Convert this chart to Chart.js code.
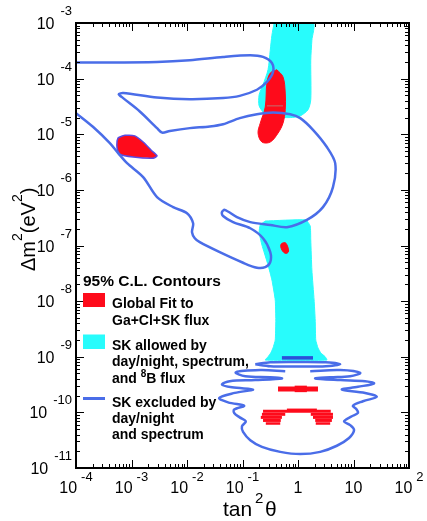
<!DOCTYPE html>
<html>
<head>
<meta charset="utf-8">
<script src="https://cdn.jsdelivr.net/npm/chart.js@4.4.1/dist/chart.umd.min.js"></script>
<style>
  html, body { margin: 0; padding: 0; background: #fff; }
  canvas { display: block; }
</style>
</head>
<body>
<canvas id="contours" width="427" height="521"></canvas>
<script>
// Solar neutrino oscillation contours, tan^2(theta) vs delta m^2 (both log)
// every point below is [log10 tan2theta, log10 dm2]

const xTickExps = [-4, -3, -2, -1, 0, 1, 2];
const yTickExps = [-11, -10, -9, -8, -7, -6, -5, -4, -3];

// SK excluded by day/night and spectrum (blue lines)
const excludedUpper = [
  [-4.00,-3.71],[-3.75,-3.71],[-2.54,-3.70],[-1.95,-3.67],[-1.35,-3.61],[-0.86,-3.58],
  [-0.63,-3.61],[-0.47,-3.72],[-0.45,-3.88],[-0.56,-4.06],[-0.74,-4.20],[-1.05,-4.31],
  [-1.35,-4.35],[-1.95,-4.37],[-2.54,-4.34],[-3.15,-4.26],[-3.23,-4.28],[-3.15,-4.35],
  [-2.85,-4.59],[-2.54,-4.89],[-2.45,-4.97],[-2.31,-4.94],[-1.95,-4.89],[-1.59,-4.86],
  [-1.35,-4.82],[-1.05,-4.71],[-0.74,-4.64],[-0.45,-4.61],[-0.14,-4.64],[0.04,-4.71],
  [0.27,-4.92],[0.52,-5.23],[0.67,-5.52],[0.63,-5.95],[0.45,-6.31],[0.16,-6.54],
  [-0.20,-6.67],[-0.50,-6.63],[-0.86,-6.58],[-1.10,-6.49],[-1.32,-6.36],[-1.37,-6.40],
  [-1.35,-6.47],[-1.17,-6.58],[-0.86,-6.69],[-0.63,-6.87],[-0.50,-7.12],[-0.50,-7.30],
  [-0.59,-7.39],[-0.74,-7.40],[-0.99,-7.31],[-1.41,-7.12],[-1.77,-6.94],[-1.86,-6.87],
  [-1.91,-6.76],[-1.89,-6.60],[-2.00,-6.42],[-2.25,-6.31],[-2.54,-6.13],[-2.79,-5.77],
  [-3.08,-5.52],[-3.24,-5.34],[-3.39,-5.16],[-3.69,-4.87],[-4.00,-4.62]
];
const excludedWavy = [
  [-0.23,-9.26],[-0.68,-9.24],[-1.12,-9.28],[-0.95,-9.35],[-0.50,-9.37],[-0.29,-9.39],
  [-0.77,-9.42],[-1.23,-9.44],[-1.37,-9.50],[-1.19,-9.55],[-0.81,-9.59],[-1.14,-9.65],
  [-1.42,-9.74],[-1.26,-9.82],[-0.97,-9.88],[-1.15,-9.95],[-1.15,-10.01],[-1.05,-10.09],
  [-0.94,-10.16],[-1.01,-10.25],[-0.99,-10.35],[-0.86,-10.50],[-0.65,-10.62],[-0.32,-10.71],
  [0.04,-10.75],[0.40,-10.71],[0.70,-10.60],[0.92,-10.46],[1.01,-10.32],[0.94,-10.23],
  [0.83,-10.16],[0.97,-10.07],[1.08,-10.01],[1.05,-9.94],[0.99,-9.88],[1.17,-9.80],
  [1.42,-9.72],[1.21,-9.65],[0.79,-9.59],[1.08,-9.54],[1.37,-9.48],[1.21,-9.44],
  [0.76,-9.42],[0.31,-9.39],[0.58,-9.37],[0.94,-9.35],[1.12,-9.29],[0.76,-9.24],[0.22,-9.26]
];
const excludedIsland = [
  [-0.77,-9.135],[-0.5,-9.10],[0,-9.095],[0.5,-9.10],[0.76,-9.135],
  [0.5,-9.17],[0,-9.175],[-0.5,-9.17],[-0.77,-9.135]
];
const excludedBar = [[-0.29,-9.02],[0.27,-9.02]];

// SK allowed by day/night, spectrum and 8B flux (cyan)
const allowedUpper = [
  [-0.43,-3.00],[0.27,-3.00],[0.25,-3.31],[0.23,-3.67],[0.23,-4.38],[0.18,-4.56],
  [0.04,-4.67],[-0.14,-4.70],[-0.41,-4.69],[-0.59,-4.64],[-0.70,-4.49],[-0.70,-4.29],
  [-0.63,-4.11],[-0.54,-3.84],[-0.50,-3.49],[-0.47,-3.22],[-0.43,-3.00]
];
const allowedLower = [
  [-0.59,-6.56],[0.14,-6.54],[0.22,-6.65],[0.23,-6.90],[0.25,-7.44],[0.29,-7.98],
  [0.31,-8.34],[0.32,-8.70],[0.36,-8.84],[0.41,-8.93],[0.49,-9.00],[0.52,-9.06],
  [-0.59,-9.06],[-0.54,-9.00],[-0.49,-8.93],[-0.45,-8.84],[-0.41,-8.70],[-0.40,-8.34],
  [-0.41,-7.98],[-0.47,-7.62],[-0.54,-7.35],[-0.65,-6.99],[-0.70,-6.76],[-0.68,-6.63],[-0.59,-6.56]
];

// Global fit to Ga+Cl+SK flux (red)
const globalLMA = [
  [-0.38,-3.84],[-0.27,-3.97],[-0.23,-4.26],[-0.23,-4.56],[-0.27,-4.80],[-0.36,-4.98],
  [-0.50,-5.14],[-0.65,-5.14],[-0.72,-4.98],[-0.68,-4.80],[-0.59,-4.51],[-0.56,-4.08],
  [-0.50,-3.90],[-0.38,-3.84]
];
const globalSMA = [
  [-3.24,-5.06],[-3.12,-5.02],[-2.94,-5.03],[-2.79,-5.14],[-2.63,-5.30],[-2.54,-5.39],
  [-2.61,-5.43],[-2.97,-5.41],[-3.21,-5.36],[-3.26,-5.25],[-3.26,-5.12],[-3.24,-5.06]
];
const globalLOW = [
  [-0.29,-6.96],[-0.23,-6.95],[-0.19,-7.01],[-0.17,-7.10],[-0.20,-7.14],
  [-0.25,-7.13],[-0.30,-7.06],[-0.31,-6.99],[-0.29,-6.96]
];
// vacuum solutions drawn as stripes: [from, to, log10 dm2]
const globalVacStripes = [
  [-0.36,0.36,-9.58],[-0.06,0.16,-9.578],
  [-0.20,0.34,-9.945],[-0.63,0.59,-9.98],
  [-0.65,-0.23,-10.035],[0.23,0.63,-10.035],
  [-0.67,-0.29,-10.09],[0.27,0.63,-10.09],
  [-0.63,-0.31,-10.145],[0.31,0.61,-10.145],
  [-0.58,-0.32,-10.20],[0.32,0.58,-10.20]
];
const stripeWidths = [5, 6.5, 1.5, 3, 3, 3, 3, 3, 3, 3, 2.5, 2.5];

const FONT = '"Liberation Sans", Arial, Helvetica, sans-serif';
const CYAN = '#28fcfc', RED = '#fe0b1b', BLUE = '#4a6de8', DARKBLUE = '#2b4fd9';

const toPts = arr => arr.map(([lx, ly]) => ({x: Math.pow(10, lx), y: Math.pow(10, ly)}));

function lineSet(data, color, width, tension) {
  return {data: toPts(data), showLine: true, fill: false, borderColor: color,
          borderWidth: width, tension: tension, pointRadius: 0};
}
function areaSet(data, color, border, tension) {
  return {data: toPts(data), showLine: true, fill: 'shape', backgroundColor: color,
          borderColor: border || color, borderWidth: border ? 1.5 : 1, tension: tension, pointRadius: 0};
}

const datasets = [
  lineSet(excludedUpper, BLUE, 2.5, 0.3),
  lineSet(excludedWavy, BLUE, 2.5, 0.35),
  lineSet(excludedIsland, BLUE, 2.5, 0.3),
  lineSet(excludedBar, DARKBLUE, 3.5, 0),
  lineSet([[-0.56,-4.49],[-0.27,-4.49]], '#c07070', 1, 0),
  areaSet(globalLMA, RED, null, 0.35),
  areaSet(globalSMA, RED, '#5a4be0', 0.2),
  areaSet(globalLOW, RED, null, 0.4),
  ...globalVacStripes.map(([a, b, ly], i) => lineSet([[a, ly], [b, ly]], RED, stripeWidths[i], 0)),
  areaSet(allowedUpper, CYAN, null, 0.25),
  areaSet(allowedLower, CYAN, null, 0.15)
];

function drawPow(ctx, base, exp, x, y, align, expRaise, gap) {
  ctx.font = '16px ' + FONT;
  const wb = ctx.measureText(base).width;
  ctx.font = '13px ' + FONT;
  const we = exp ? ctx.measureText(exp).width : 0;
  const g = exp ? gap : 0;
  let left;
  if (align === 'center') left = x - (wb + g + we) / 2;
  else left = x - (wb + g + we);
  ctx.font = '16px ' + FONT;
  ctx.fillText(base, left, y);
  if (exp) {
    ctx.font = '13px ' + FONT;
    ctx.fillText(exp, left + wb + g, y - expRaise);
  }
}

const decor = {
  id: 'decor',
  afterDatasetsDraw(chart) {
    const {ctx, chartArea: a, scales: {x, y}} = chart;
    ctx.save();
    // ticks on all four sides, pointing in
    ctx.strokeStyle = '#000';
    ctx.lineWidth = 1;
    ctx.beginPath();
    for (const e of xTickExps) {
      for (let m = 1; m <= 9; m++) {
        if (e === 2 && m > 1) break;
        const px = Math.round(x.getPixelForValue(m * Math.pow(10, e))) + 0.5;
        const len = m === 1 ? 8 : 4;
        ctx.moveTo(px, a.bottom); ctx.lineTo(px, a.bottom - len);
        ctx.moveTo(px, a.top); ctx.lineTo(px, a.top + len);
      }
    }
    for (const e of yTickExps) {
      for (let m = 1; m <= 9; m++) {
        if (e === -3 && m > 1) break;
        const py = Math.round(y.getPixelForValue(m * Math.pow(10, e))) + 0.5;
        const len = m === 1 ? 8 : 4;
        ctx.moveTo(a.left, py); ctx.lineTo(a.left + len, py);
        ctx.moveTo(a.right, py); ctx.lineTo(a.right - len, py);
      }
    }
    ctx.stroke();
    ctx.lineWidth = 2;
    ctx.strokeRect(a.left, a.top, a.right - a.left, a.bottom - a.top);

    // tick labels
    ctx.fillStyle = '#000';
    ctx.textAlign = 'left';
    ctx.textBaseline = 'alphabetic';
    for (const e of xTickExps) {
      const px = x.getPixelForValue(Math.pow(10, e));
      const base = e === 0 ? '1' : '10';
      const exp = (e === 0 || e === 1) ? '' : String(e);
      drawPow(ctx, base, exp, px, a.bottom + 25, 'center', 12, 4);
    }
    for (const e of yTickExps) {
      const py = y.getPixelForValue(Math.pow(10, e));
      drawPow(ctx, '10', String(e), 72, py + 6, 'right', 14, 6);
    }

    // axis titles
    ctx.font = '21px ' + FONT;
    ctx.fillText('tan', 223, 516);
    ctx.font = '15px ' + FONT;
    ctx.fillText('2', 255, 503);
    ctx.font = '21px ' + FONT;
    ctx.fillText('\u03b8', 265, 516);

    ctx.save();
    ctx.translate(35, 271);
    ctx.rotate(-Math.PI / 2);
    let cx = 0;
    const part = (t, size, dy) => {
      ctx.font = size + 'px ' + FONT;
      ctx.fillText(t, cx, dy);
      cx += ctx.measureText(t).width;
    };
    part('\u0394m', 20, 0); part('2', 14, -13); part('(eV', 20, 0); part('2', 14, -13); part(')', 20, 0);
    ctx.restore();

    // legend
    ctx.font = 'bold 15.5px ' + FONT;
    ctx.fillText('95% C.L. Contours', 83, 285.5);
    ctx.fillStyle = RED;
    ctx.fillRect(83, 293, 22, 14);
    ctx.fillStyle = CYAN;
    ctx.fillRect(83, 334.5, 22, 14.5);
    ctx.strokeStyle = BLUE;
    ctx.lineWidth = 3;
    ctx.beginPath(); ctx.moveTo(83, 398.5); ctx.lineTo(105, 398.5); ctx.stroke();
    ctx.fillStyle = '#000';
    ctx.font = 'bold 14px ' + FONT;
    ctx.fillText('Global Fit to', 112, 308);
    ctx.fillText('Ga+Cl+SK flux', 112, 324.5);
    ctx.fillText('SK allowed by', 112, 349.5);
    ctx.fillText('day/night, spectrum,', 112, 366);
    let lx = 112;
    ctx.fillText('and ', lx, 382.5); lx += ctx.measureText('and ').width;
    ctx.font = 'bold 10px ' + FONT;
    ctx.fillText('8', lx, 377); lx += ctx.measureText('8').width;
    ctx.font = 'bold 14px ' + FONT;
    ctx.fillText('B flux', lx, 382.5);
    ctx.fillText('SK excluded by', 112, 407);
    ctx.fillText('day/night', 112, 423);
    ctx.fillText('and spectrum', 112, 439);
    ctx.restore();
  }
};

new Chart(document.getElementById('contours'), {
  type: 'scatter',
  data: {datasets},
  options: {
    responsive: false,
    animation: false,
    events: [],
    layout: {padding: {left: 76, right: 18, top: 23, bottom: 53}},
    scales: {
      x: {type: 'logarithmic', min: 1e-4, max: 100, display: false},
      y: {type: 'logarithmic', min: 1e-11, max: 1e-3, display: false}
    },
    plugins: {legend: {display: false}, tooltip: {enabled: false}},
    elements: {point: {radius: 0}}
  },
  plugins: [decor]
});
</script>
</body>
</html>
